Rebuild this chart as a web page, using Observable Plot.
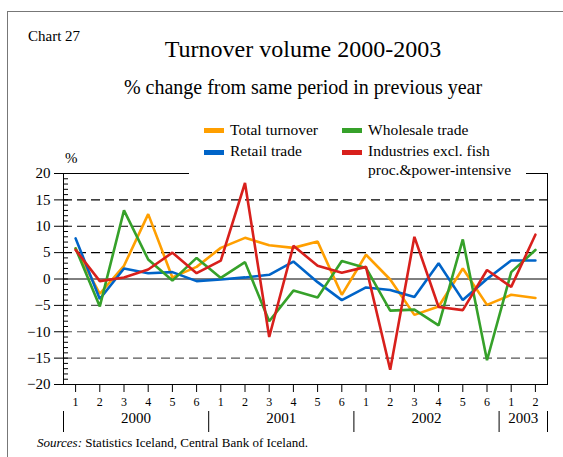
<!DOCTYPE html>
<html><head><meta charset="utf-8">
<script src="https://cdn.jsdelivr.net/npm/d3@7"></script>
<script src="https://cdn.jsdelivr.net/npm/@observablehq/plot@0.6"></script>
<style>
body{margin:0;background:#fff;}
#wrap{position:relative;width:563px;height:457px;overflow:hidden;font-family:"Liberation Serif","Times New Roman",serif;color:#000;}
#border{position:absolute;left:7px;top:11px;width:600px;height:500px;border-top:1.5px solid #777;border-left:1.5px solid #777;box-sizing:border-box;}
#chart{position:absolute;left:0;top:0;}
#chart svg, #chart svg text{font-family:"Liberation Serif","Times New Roman",serif !important;}
.t{position:absolute;white-space:nowrap;line-height:1;}
#legend{position:absolute;left:189px;top:116px;width:337px;height:61px;background:#fff;}
.sw{position:absolute;width:20px;height:5px;}
.lt{position:absolute;white-space:nowrap;font-size:15.5px;line-height:1;}
</style>
</head><body>
<div id="wrap">
  <div id="border"></div>
  <div id="chart"></div>
  <div class="t" style="left:28px;top:29.4px;font-size:15px;">Chart 27</div>
  <div class="t" style="left:53px;width:500px;text-align:center;top:36.9px;font-size:24px;">Turnover volume 2000-2003</div>
  <div class="t" style="left:53px;width:500px;text-align:center;top:77.2px;font-size:20px;">% change from same period in previous year</div>
  <div class="t" style="left:65px;top:151.4px;font-size:15px;">%</div>
  <div id="legend"></div>
  <div class="t" style="left:37px;top:436px;font-size:13px;"><i>Sources:</i> Statistics Iceland, Central Bank of Iceland.</div>
</div>
<script>
// ---- data ----
const years = ["2000", "2001", "2002", "2003"];
const periodsPerYear = [6, 6, 6, 2];
const periodLabels = ["1","2","3","4","5","6","1","2","3","4","5","6","1","2","3","4","5","6","1","2"];
const seriesNames = ["Total turnover", "Retail trade", "Wholesale trade", "Industries excl. fish proc.&power-intensive"];
const seriesColors = ["#FF9F00", "#0064C8", "#36A12A", "#D8201C"];
const totalTurnover = [5.8, -2.8, 2.5, 12.3, 0.3, 2.3, 5.9, 7.8, 6.4, 5.9, 7.1, -3.0, 4.6, -0.1, -6.8, -5.2, 2.0, -4.9, -3.0, -3.6];
const retailTrade   = [7.7, -3.8, 2.0, 1.1, 1.3, -0.4, -0.1, 0.3, 0.8, 3.3, -0.6, -4.0, -1.6, -2.1, -3.4, 3.0, -4.0, 0.0, 3.5, 3.5];
const wholesaleTrade= [5.8, -5.2, 13.0, 3.7, -0.3, 4.0, 0.2, 3.2, -8.0, -2.2, -3.5, 3.4, 2.1, -6.0, -5.8, -8.8, 7.5, -15.4, 1.3, 5.5];
const industries    = [5.5, -0.4, 0.3, 1.8, 5.0, 1.1, 3.5, 18.2, -11.0, 6.3, 2.5, 1.2, 2.3, -17.2, 8.0, -5.3, -5.9, 1.7, -1.5, 8.4];
const yTicks = [-20, -15, -10, -5, 0, 5, 10, 15, 20];
const gridPositive = [5, 10, 15];
const gridNegative = [-5, -10, -15];

// ---- build ----
const allSeries = [totalTurnover, retailTrade, wholesaleTrade, industries];
const rows = [];
allSeries.forEach((vals, s) => vals.forEach((v, i) => rows.push({series: seriesNames[s], idx: i + 1, value: v})));

const bounds = [0.5];
periodsPerYear.forEach(n => bounds.push(bounds[bounds.length - 1] + n));
const yearData = years.map((y, i) => ({year: y, mid: (bounds[i] + bounds[i + 1]) / 2}));

const lineMarks = seriesNames.map((name, s) =>
  Plot.line(rows.filter(r => r.series === name), {x: "idx", y: "value", stroke: seriesColors[s], strokeWidth: 2.6, strokeLinejoin: "miter"})
);

const chart = Plot.plot({
  width: 563, height: 457,
  marginTop: 173, marginBottom: 73, marginLeft: 63, marginRight: 16,
  x: {domain: [0.5, periodLabels.length + 0.5]},
  y: {domain: [-20, 20]},
  style: "font-family:'Liberation Serif','Times New Roman',serif;color:#000;background:transparent;overflow:visible;",
  marks: [
    Plot.ruleY(gridPositive, {y: d => d, stroke: "#000", strokeDasharray: "9,5", strokeWidth: 1.1}),
    Plot.ruleY(gridNegative, {y: d => d, stroke: "#555", strokeDasharray: "9,5", strokeWidth: 1.1}),
    Plot.ruleY([0], {stroke: "#000", strokeWidth: 1}),
    ...lineMarks,
    Plot.frame({stroke: "#000", strokeWidth: 1}),
    Plot.axisY({ticks: yTicks, tickSize: 9, tickPadding: 4, fontSize: 15, label: null}),
    Plot.axisY({ticks: d3.range(-20, 21, 1), tickSize: -5, tickFormat: () => "", label: null}),
    Plot.axisX({ticks: d3.range(1, periodLabels.length + 1), tickSize: 8, tickPadding: 5, tickFormat: d => periodLabels[d - 1], fontSize: 12, label: null}),
    Plot.axisX({ticks: bounds, tickSize: 21, dy: 27, tickFormat: () => "", label: null}),
    Plot.text(yearData, {x: "mid", text: "year", frameAnchor: "bottom", dy: 38, fontSize: 15})
  ]
});
document.getElementById("chart").appendChild(chart);

// ---- legend ----
const legend = document.getElementById("legend");
const lx = 189, ly = 116;
const legendPos = [
  {sw: [204, 127.5], tx: [230, 122], lines: ["Total turnover"]},
  {sw: [204, 149.5], tx: [230, 143], lines: ["Retail trade"]},
  {sw: [342, 127.5], tx: [368, 122], lines: ["Wholesale trade"]},
  {sw: [342, 149.5], tx: [368, 143], lines: ["Industries excl. fish", "proc.&power-intensive"]}
];
legendPos.forEach((p, i) => {
  const sw = document.createElement("div");
  sw.className = "sw";
  sw.style.left = (p.sw[0] - lx) + "px";
  sw.style.top = (p.sw[1] - ly) + "px";
  sw.style.background = seriesColors[i];
  legend.appendChild(sw);
  const t = document.createElement("div");
  t.className = "lt";
  t.style.left = (p.tx[0] - lx) + "px";
  t.style.top = (p.tx[1] - ly) + "px";
  t.style.lineHeight = "19px";
  t.style.marginTop = "-1.7px";
  t.innerHTML = p.lines.join("<br>");
  legend.appendChild(t);
});
</script>
</body></html>
